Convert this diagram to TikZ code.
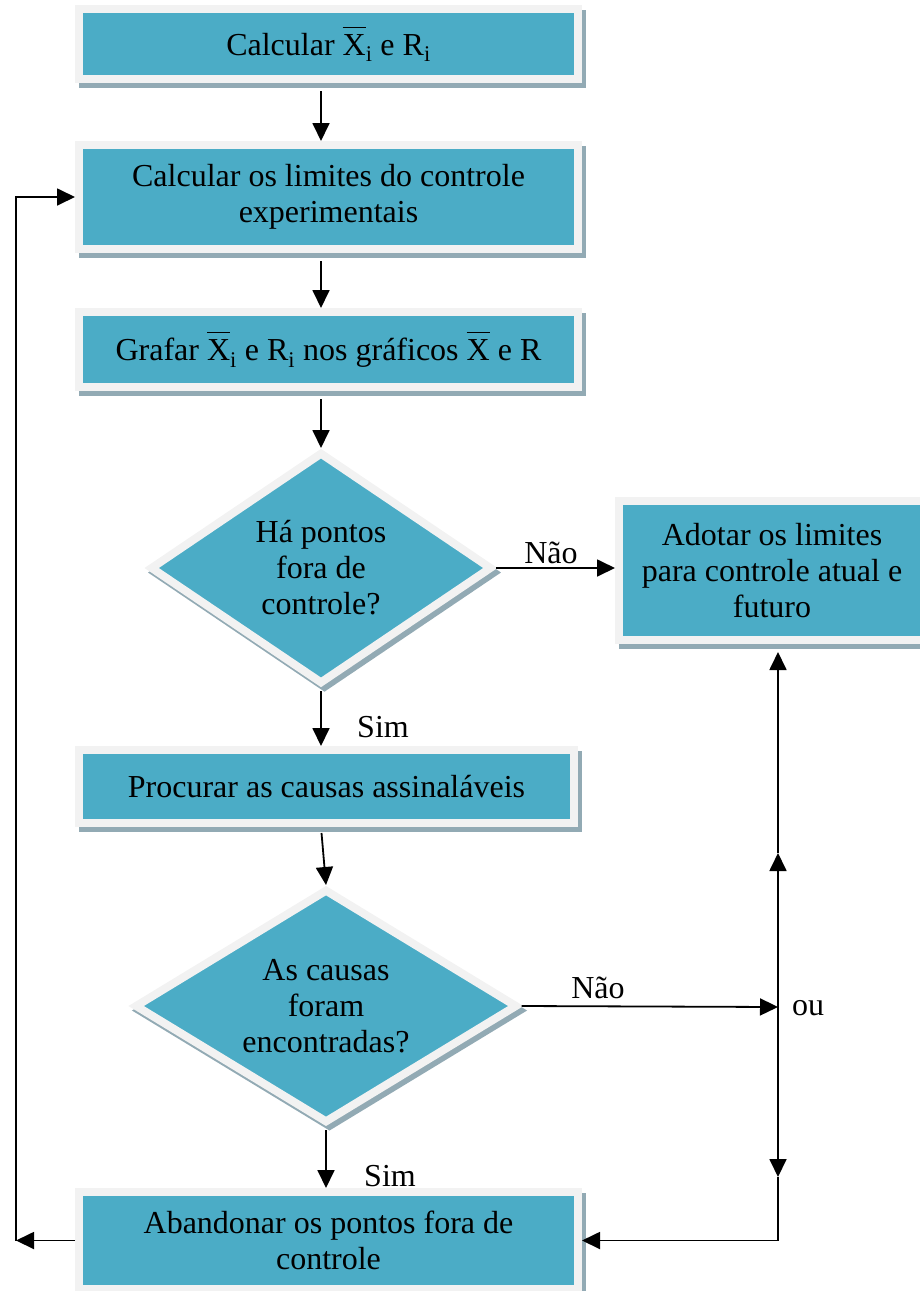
\documentclass[tikz,border=0pt]{standalone}
\usepackage{fontspec}
\setmainfont{Liberation Serif}
\usetikzlibrary{shapes.geometric,arrows.meta}

\definecolor{boxteal}{RGB}{75,172,198}
\definecolor{framegray}{RGB}{242,242,242}
\definecolor{shadowgray}{RGB}{146,170,180}

\newcommand{\boxfont}{\fontsize{32}{36}\selectfont}
\newcommand{\barX}{$\overline{\rule{0pt}{0.86em}\mbox{X}}$}

\tikzset{
	stepbox/.style={rectangle, fill=boxteal, draw=framegray, line width=8pt, inner sep=0pt, align=center, font=\boxfont,
		preaction={fill=shadowgray, draw=shadowgray, transform canvas={xshift=3.5pt, yshift=-4.5pt}}},
	askbox/.style={stepbox, diamond, aspect=1.6},
	flow/.style={-{Triangle[length=18pt, width=17pt]}, line width=1.8pt},
	tag/.style={font=\boxfont, inner sep=0pt}
}

\begin{document}
\begin{tikzpicture}[x=1pt, y=-1pt]
			\useasboundingbox (0,0) rectangle (919,1291);

			\node [stepbox, minimum width=499, minimum height=70] (b1) at (328.5, 44) {Calcular \barX\textsubscript{i} e R\textsubscript{i}};
			\node [stepbox, minimum width=499, minimum height=104] (b2) at (328.5, 197) {Calcular os limites do controle\\experimentais};
			\node [stepbox, minimum width=499, minimum height=75] (b3) at (328.5, 349.5) {Grafar \barX\textsubscript{i} e R\textsubscript{i} nos gráficos \barX{} e R};
			\node [askbox, minimum width=342, minimum height=232] (d1) at (321, 568) {Há pontos\\fora de\\controle?};
			\node [stepbox, minimum width=306, minimum height=139] (adotar) at (772, 570.5) {Adotar os limites\\para controle atual e\\futuro};
			\node [stepbox, minimum width=495, minimum height=73] (b4) at (326.5, 786.5) {Procurar as causas assinaláveis};
			\node [askbox, minimum width=383, minimum height=234] (d2) at (326, 1006) {As causas\\foram\\encontradas?};
			\node [stepbox, minimum width=499, minimum height=97] (b5) at (328.5, 1240.5) {Abandonar os pontos fora de\\controle};

			\node [tag] (nao1) at (551, 553) {Não};
			\node [tag] (sim1) at (383, 727) {Sim};
			\node [tag] (nao2) at (598, 988) {Não};
			\node [tag] (sim2) at (390, 1176) {Sim};
			\node [tag] (oulabel) at (808, 1008) {ou};

			\coordinate (ou) at (778, 1007);
			\coordinate (up) at (778, 853);
			\coordinate (down) at (778, 1177);
			\coordinate (volta) at (16, 1240.5);

			\draw [flow, shorten <=8pt] (b1.south -| d1.north) -- (b2.north -| d1.north);
			\draw [flow, shorten <=8pt] (b2.south -| d1.north) -- (b3.north -| d1.north);
			\draw [flow, shorten <=8pt] (b3.south -| d1.north) -- (d1.north);
			\draw [flow, shorten <=3pt] (d1.south) -- (b4.north -| d1.south);
			\draw [flow, shorten <=6pt] (b4.south -| d1.south) -- (d2.north);
			\draw [flow, shorten <=3pt] (d2.south) -- (b5.north -| d2.south);

			\draw [flow] (d1.east) -- (d1.east -| adotar.west);
			\draw [flow] (d2.east) -- (ou);
			\draw [flow] (ou) -- (up);
			\draw [flow, shorten >=8pt] (up) -- (ou |- adotar.south);
			\draw [flow] (ou) -- (down);
			\draw [flow] (down) |- (b5.east);

			\draw [flow] (b5.west) -- (volta);
			\draw [flow] (volta) |- (b2.west);
\end{tikzpicture}
\end{document}
